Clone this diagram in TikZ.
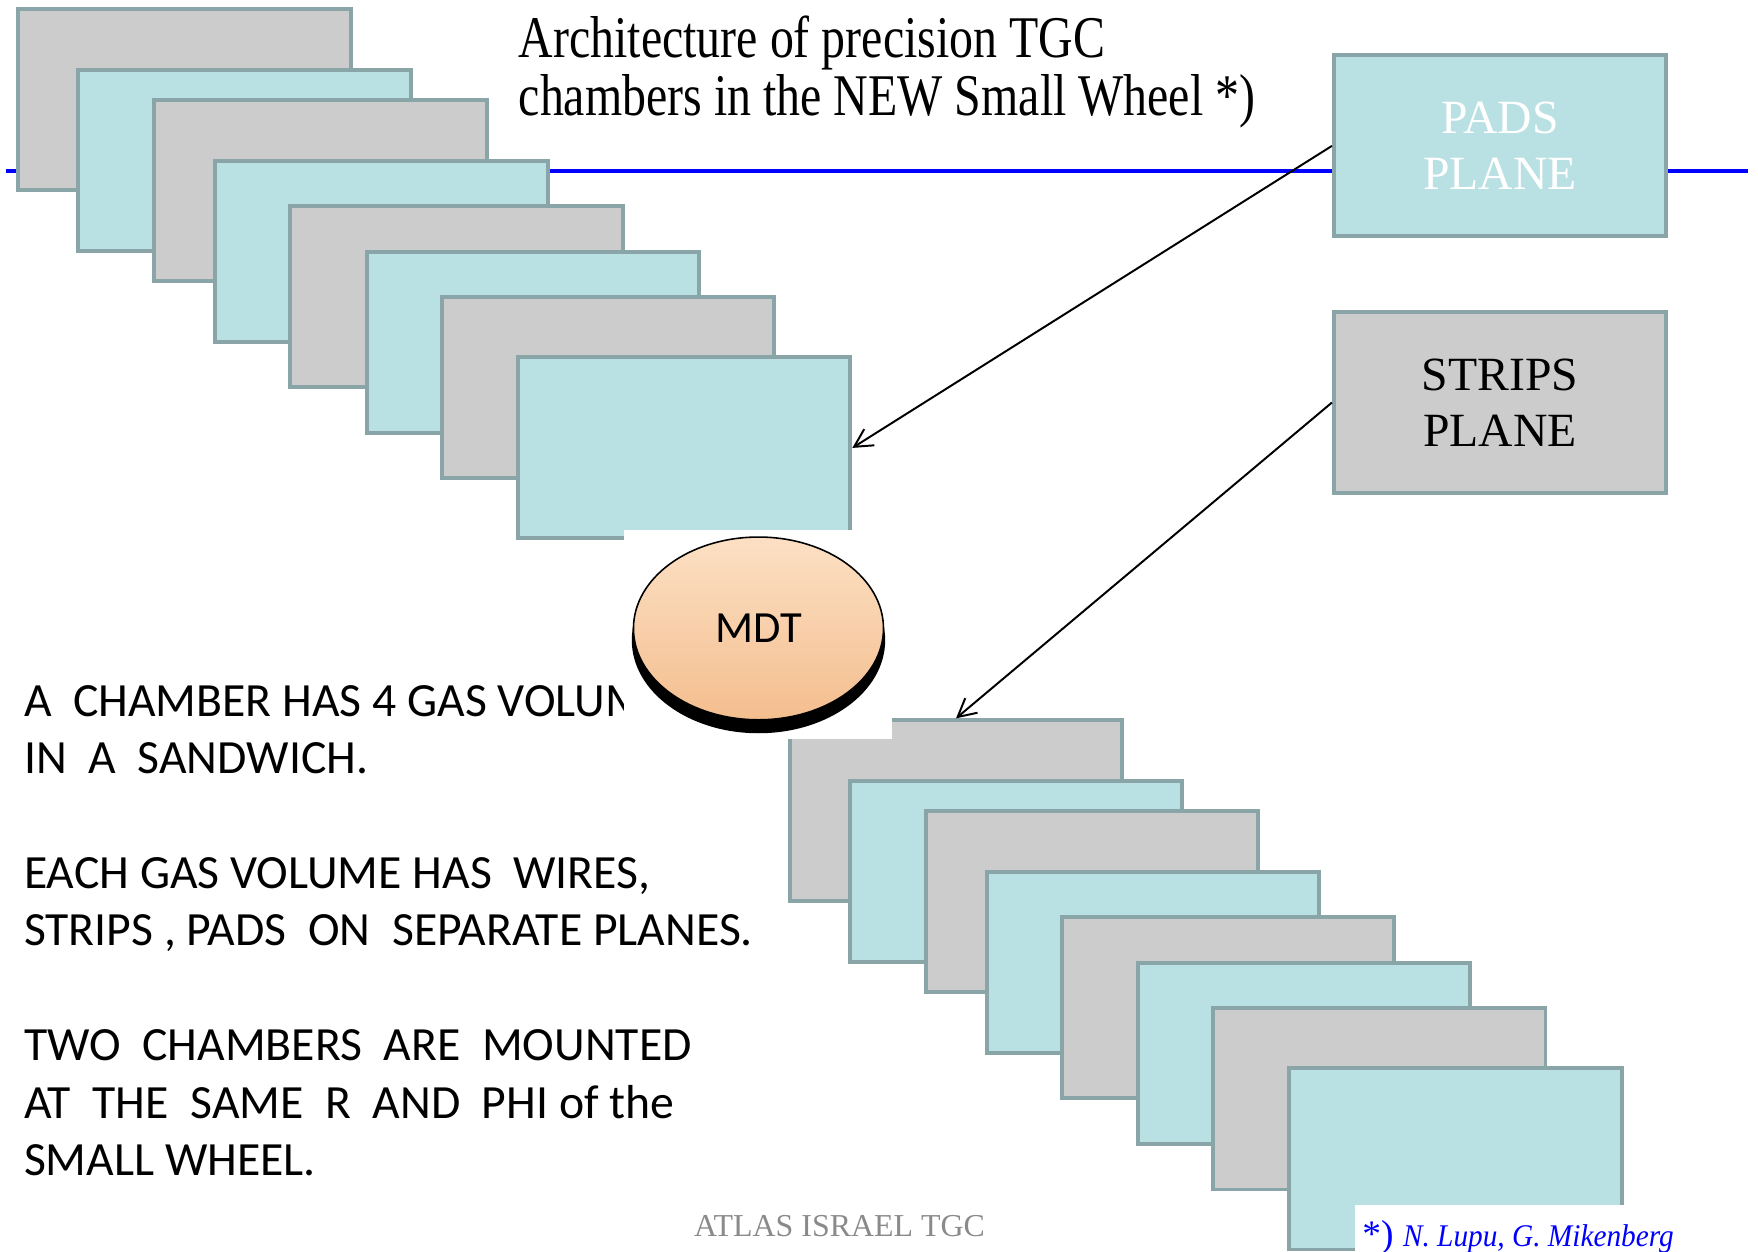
\documentclass[tikz,border=0pt]{standalone}
\usepackage{fontspec}
\usepackage{xcolor}
\usepackage{tikz}
\usetikzlibrary{arrows.meta,shapes.geometric,positioning}
\newfontfamily\slidesans{Carlito}
\newfontfamily\slideserif{Liberation Serif}
\newfontfamily\headserif[FakeStretch=0.81]{Liberation Serif}
\newfontfamily\creditserif[FakeStretch=0.93]{Liberation Serif}
\definecolor{gasgray}{RGB}{204,204,204}
\definecolor{gascyan}{RGB}{185,224,227}
\definecolor{gasedge}{RGB}{138,165,168}
\definecolor{mdtpeach}{RGB}{244,190,143}
\definecolor{mdtlight}{RGB}{252,224,196}
\definecolor{footgray}{RGB}{138,138,138}

\begin{document}
\begin{tikzpicture}[x=0.1mm,y=-0.1mm,
  sheet/.style={rectangle,draw=gasedge,line width=1pt,minimum width=29.65mm,minimum height=16.15mm,inner sep=0pt,anchor=north west},
  stripsheet/.style={sheet,fill=gasgray},
  padsheet/.style={sheet,fill=gascyan},
  pointer/.style={-{Straight Barb[length=1.6mm,width=1.7mm]},line width=0.5pt},
  plaintext/.style={inner sep=0pt,anchor=base west,align=left}]
\useasboundingbox (0,0) rectangle (1568,1116);

% wheel line behind everything
\coordinate (wheelL) at (5,152.5);
\coordinate (wheelR) at (1559,152.5);
\draw[blue,line width=1.1pt] (wheelL) -- (wheelR);

% first chamber
\node (up1) at (14.7,6.5)[stripsheet] {};
\node (up2) at (68.2,60.6)[padsheet] {};
\node (up3) at (136,87.5)[stripsheet] {};
\node (up4) at (190.2,141.7)[padsheet] {};
\node (up5) at (257.2,182.2)[stripsheet] {};
\node (up6) at (325.2,223)[padsheet] {};
\node (up7) at (392.2,263.5)[stripsheet] {};
\node (up8) at (460.2,317)[padsheet] {};

% second chamber
\node (low1) at (702.7,640.7)[stripsheet] {};
\node (low2) at (756.2,694.8)[padsheet] {};
\node (low3) at (824,721.7)[stripsheet] {};
\node (low4) at (878.2,775.9)[padsheet] {};
\node (low5) at (945.2,816.4)[stripsheet] {};
\node (low6) at (1013.2,857.2)[padsheet] {};
\node (low7) at (1080.2,897.7)[stripsheet] {};
\node (low8) at (1148.2,951.2)[padsheet] {};

% legend boxes
\node (pads) at (1188,47.6)[padsheet,align=center,text=white,font=\slideserif\fontsize{12.1}{14.35}\selectfont] {PADS\\PLANE};
\node (strips) at (1188,276.5)[stripsheet,align=center,font=\slideserif\fontsize{12.1}{14.35}\selectfont] {STRIPS\\PLANE};

% multi-line texts sit on their last baseline
\node (title) at (462,102.6)[plaintext,font=\headserif\fontsize{15}{12.7}\selectfont] {Architecture of precision TGC\\chambers in the NEW Small Wheel *)};

\node (notes) at (20.8,1048.4)[plaintext,font=\slidesans\fontsize{12.1}{14.57}\selectfont] {A\ \ CHAMBER HAS 4 GAS VOLUMES\\IN\ \ A\ \ SANDWICH.\\[14.57pt]EACH GAS VOLUME HAS\ \ WIRES,\\STRIPS , PADS\ \ ON\ \ SEPARATE PLANES.\\[14.57pt]TWO\ \ CHAMBERS\ \ ARE\ \ MOUNTED\\AT\ \ THE\ \ SAME\ \ R\ \ AND\ \ PHI of the\\SMALL WHEEL.};

\draw[pointer] (pads.west) -- (up8.east);
\draw[pointer] (strips.west) -- (low1.north);

% MDT sits on its own white patch
\fill[white] (557,473) rectangle (796,659);
\node (mdtshadow) at (676.5,571)[ellipse,fill=black,minimum width=22.6mm,minimum height=16.6mm,inner sep=0pt] {};
\node (mdt) at (676.5,560.5)[ellipse,draw=black,line width=0.4pt,top color=mdtlight,middle color=mdtpeach,bottom color=mdtpeach,minimum width=22.3mm,minimum height=16.3mm,inner sep=0pt,font=\slidesans\fontsize{11.3}{13}\selectfont] {MDT};

% footer
\node (atlas) at (618.4,1103)[plaintext,text=footgray,font=\slideserif\fontsize{8.1}{10}\selectfont] {ATLAS ISRAEL TGC};
\fill[white] (1208.5,1074.7) rectangle (1568,1116);
\node (credit) at (1214.5,1112)[plaintext,text=blue,font=\slideserif\fontsize{9.5}{11}\selectfont] {*) {\creditserif\itshape\fontsize{8}{9}\selectfont N. Lupu, G. Mikenberg}};
\end{tikzpicture}
\end{document}
